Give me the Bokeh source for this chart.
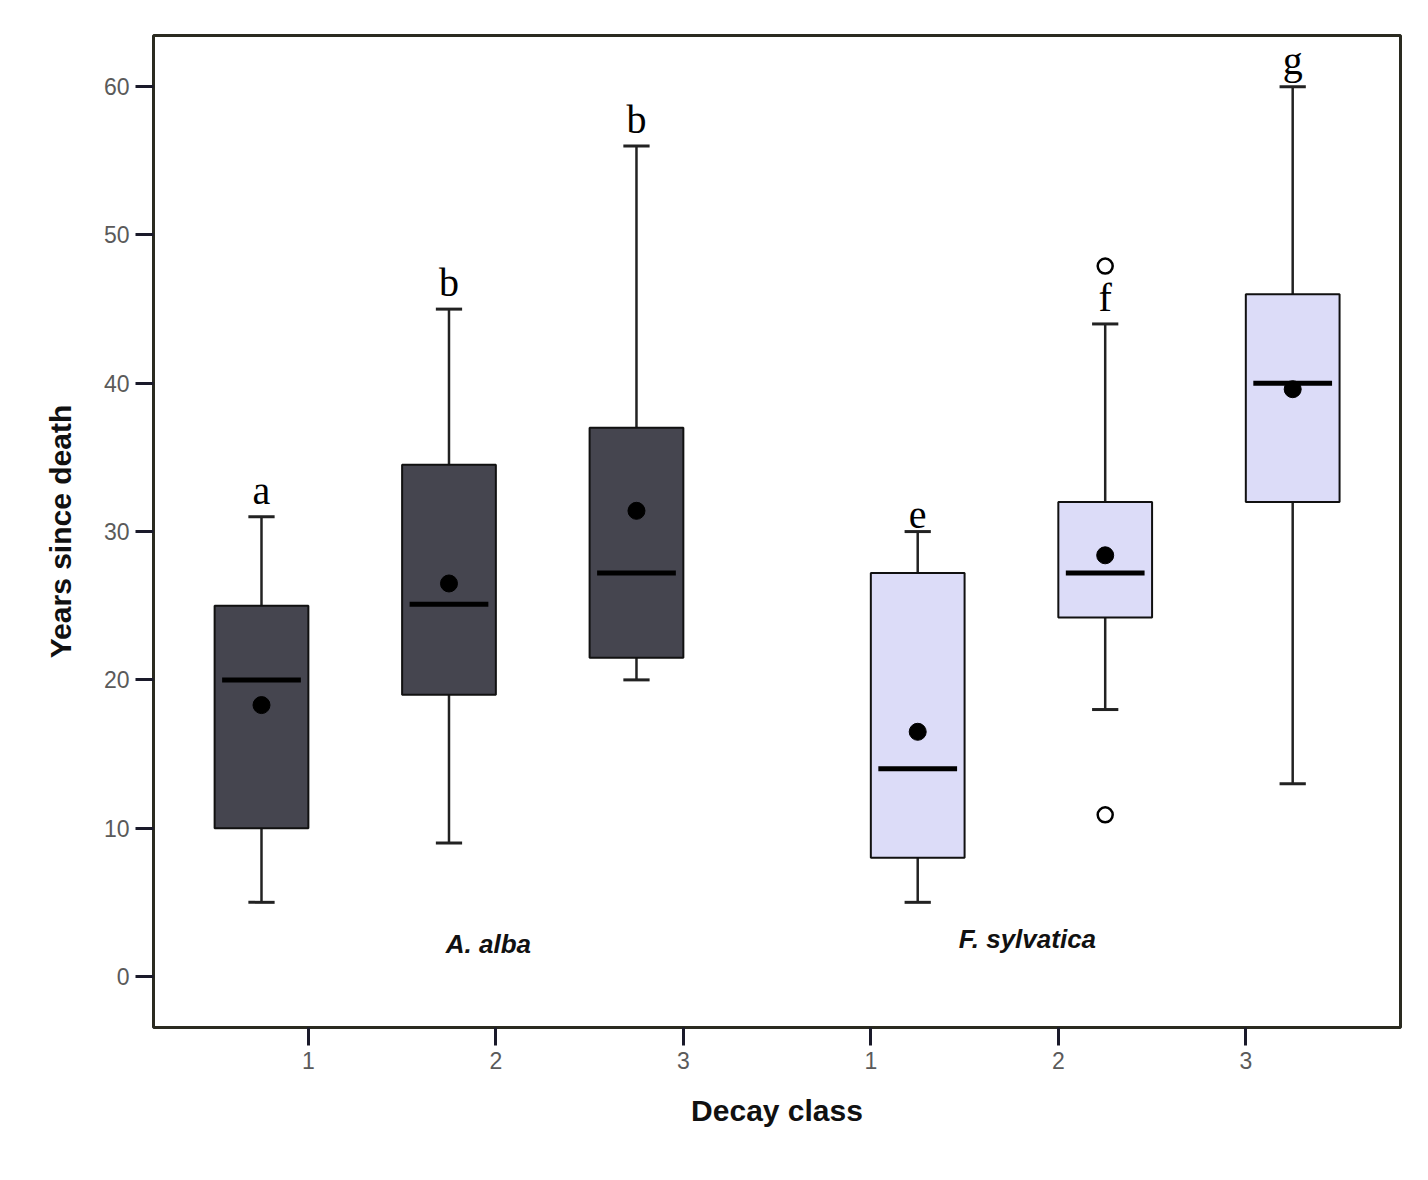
from bokeh.plotting import figure
from bokeh.models import FixedTicker, Range1d
from bokeh.core.properties import value
from bokeh.embed import file_html
from bokeh.resources import INLINE

# ---- data ----
species = ["A. alba", "A. alba", "A. alba", "F. sylvatica", "F. sylvatica", "F. sylvatica"]
decay_class = ["1", "2", "3", "1", "2", "3"]
positions = [1, 2, 3, 4.5, 5.5, 6.5]
whisker_low = [5, 9, 20, 5, 18, 13]
q1 = [10, 19, 21.5, 8, 24.2, 32]
median = [20, 25.1, 27.2, 14, 27.2, 40]
q3 = [25, 34.5, 37, 27.2, 32, 46]
whisker_high = [31, 45, 56, 30, 44, 60]
means = [18.3, 26.5, 31.4, 16.5, 28.4, 39.6]
letters = ["a", "b", "b", "e", "f", "g"]
outlier_pos = [5.5, 5.5]
outlier_vals = [47.9, 10.9]
tick_positions = [1.25, 2.25, 3.25, 4.25, 5.25, 6.25]
tick_labels = ["1", "2", "3", "1", "2", "3"]
fills = ["#45454f", "#45454f", "#45454f", "#dcdcf8", "#dcdcf8", "#dcdcf8"]

p = figure(width=1420, height=1172, output_backend="svg", toolbar_location=None,
           x_range=Range1d(0.424, 7.075), y_range=Range1d(-3.44, 63.45),
           min_border_left=153, min_border_top=35, min_border_right=20, min_border_bottom=145)
p.grid.visible = False
p.outline_line_color = "#2a2a20"
p.outline_line_width = 3
p.background_fill_color = "white"
p.border_fill_color = "white"

bw = 0.25
left = [x - bw for x in positions]
right = [x + bw for x in positions]
cw = 0.07
mw = 0.21

# whiskers
p.segment(x0=positions, y0=q3, x1=positions, y1=whisker_high, line_color="#222222", line_width=2.5)
p.segment(x0=positions, y0=whisker_low, x1=positions, y1=q1, line_color="#222222", line_width=2.5)
p.segment(x0=[x - cw for x in positions], y0=whisker_high, x1=[x + cw for x in positions], y1=whisker_high,
          line_color="#222222", line_width=3)
p.segment(x0=[x - cw for x in positions], y0=whisker_low, x1=[x + cw for x in positions], y1=whisker_low,
          line_color="#222222", line_width=3)
# boxes
p.quad(left=left, right=right, bottom=q1, top=q3, fill_color=fills, line_color="#111111", line_width=2)
# medians
p.segment(x0=[x - mw for x in positions], y0=median, x1=[x + mw for x in positions], y1=median,
          line_color="black", line_width=5)
# means
p.scatter(x=positions, y=means, size=17, fill_color="black", line_color="black")
# outliers
p.scatter(x=outlier_pos, y=outlier_vals, size=15, fill_color=None, line_color="black", line_width=2.5)
# letters
p.text(x=positions, y=whisker_high, text=letters, text_align="center", text_baseline="bottom",
       y_offset=-4, text_font=value("Liberation Serif"), text_font_size="40px", text_color="black")
# species labels
p.text(x=[2.21, 5.085], y=[2.16, 2.56], text=["A. alba", "F. sylvatica"], text_align="center",
       text_baseline="middle", text_font=value("Liberation Sans"), text_font_style="bold italic",
       text_font_size="26px", text_color="#111111")

# axes
p.yaxis.ticker = FixedTicker(ticks=[0, 10, 20, 30, 40, 50, 60])
p.xaxis.ticker = FixedTicker(ticks=tick_positions)
p.xaxis.major_label_overrides = {t: l for t, l in zip(tick_positions, tick_labels)}
for ax in (p.xaxis, p.yaxis):
    ax.axis_line_color = None
    ax.minor_tick_line_color = None
    ax.major_tick_in = 0
    ax.major_tick_out = 18
    ax.major_tick_line_width = 3
    ax.major_tick_line_color = "#1a1a2a"
    ax.major_label_text_font = "Liberation Sans"
    ax.major_label_text_font_size = "23px"
    ax.major_label_text_color = "#5a5a5a"
    ax.major_label_standoff = 6
    ax.axis_label_text_font = "Liberation Sans"
    ax.axis_label_text_font_style = "bold"
    ax.axis_label_text_font_size = "30px"
    ax.axis_label_text_color = "#111111"
p.xaxis.axis_label = "Decay class"
p.yaxis.axis_label = "Years since death"
p.xaxis.axis_label_standoff = 22
p.yaxis.axis_label_standoff = 24

open("out.html", "w").write(file_html(p, INLINE))
